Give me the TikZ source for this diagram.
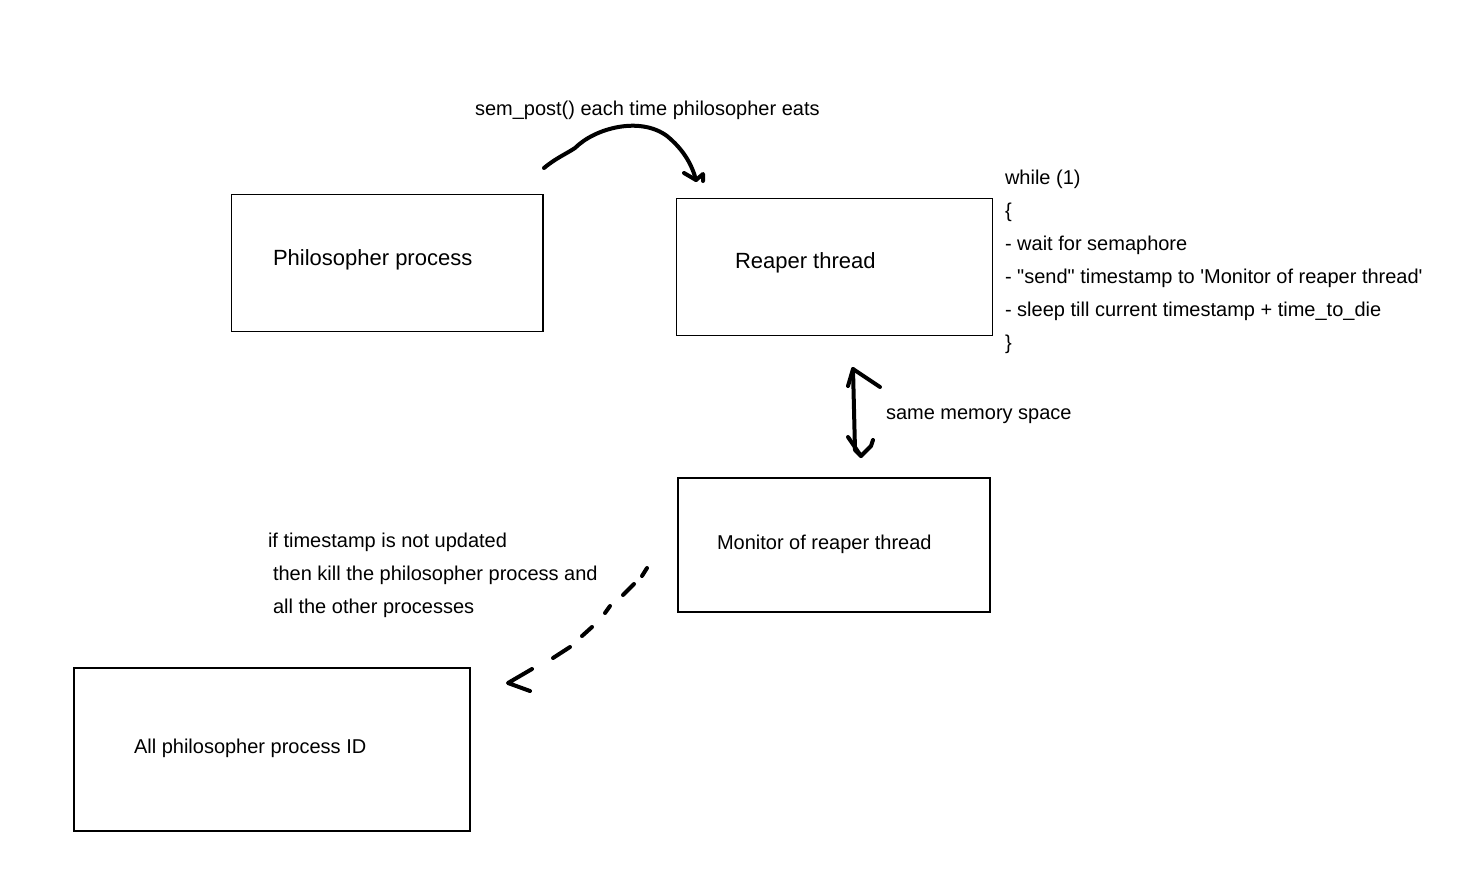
\documentclass[tikz,border=0pt]{standalone}
\usepackage{fontspec}
\newfontfamily\lib{Liberation Sans}
\begin{document}
\begin{tikzpicture}[x=1pt,y=-1pt,
  box/.style={draw=black, line width=1.1pt, inner sep=0pt, outer sep=0pt},
  lbl/.style={font=\lib\fontsize{20}{24}\selectfont, inner sep=0pt, outer sep=0pt, anchor=base west},
  biglbl/.style={font=\lib\fontsize{22}{26}\selectfont, inner sep=0pt, outer sep=0pt, anchor=base west},
  hand/.style={line width=4pt, line cap=round, line join=round, draw=black}]
\useasboundingbox (0,0) rectangle (1462,871);
\fill[white] (0,0) rectangle (1462,871);

% boxes
\node[box, minimum width=311.5pt, minimum height=137pt] (phil) at (387.25,263) {};
\node[box, minimum width=316pt, minimum height=137.5pt] (reaper) at (834.5,267) {};
\node[box, minimum width=312pt, minimum height=134pt] (monitor) at (834,545) {};
\node[box, minimum width=396pt, minimum height=163pt] (allid) at (272,749.5) {};

% box labels
\node[biglbl] (philtxt) at (273,265) {Philosopher process};
\node[biglbl] (reapertxt) at (735,268) {Reaper thread};
\node[lbl] (monitortxt) at (717,549) {Monitor of reaper thread};
\node[lbl] (alltxt) at (134,753) {All philosopher process ID};

% other texts
\node[lbl] (sem) at (475,115) {sem\_post() each time philosopher eats};
\node[lbl] (w1) at (1005,184) {while (1)};
\node[lbl] (w2) at (1005,217) {\{};
\node[lbl] (w3) at (1005,250) {- wait for semaphore};
\node[lbl] (w4) at (1005,283) {- "send" timestamp to \textquotesingle Monitor of reaper thread\textquotesingle};
\node[lbl] (w5) at (1005,316) {- sleep till current timestamp + time\_to\_die};
\node[lbl] (w6) at (1005,349) {\}};
\node[lbl] (mem) at (886,419) {same memory space};
\node[lbl] (k1) at (268,547) {if timestamp is not updated};
\node[lbl] (k2) at (273,580) {then kill the philosopher process and};
\node[lbl] (k3) at (273,613) {all the other processes};

% curved arrow: philosopher -> reaper
\coordinate (a1s) at (544,168);
\coordinate (a1e) at (696,180);
\draw[hand] (a1s) .. controls (556,158) and (566,154) .. (575,148)
  .. controls (595,128) and (640,116) .. (667,136)
  .. controls (684,150) and (692,165) .. (a1e);
\draw[hand] (684,173) -- (a1e) -- (703,174) -- (703,181);

% double arrow: reaper <-> monitor
\coordinate (a2t) at (853,369);
\coordinate (a2b) at (861,456);
\draw[hand] (a2t) -- (855,450) -- (a2b);
\draw[hand] (848,386) -- (a2t) -- (880,387);
\draw[hand] (848,437) -- (a2b) -- (871,446) -- (873,440);

% dashed arrow: monitor -> all philosopher process ID
\coordinate (a3s) at (647,568);
\coordinate (a3e) at (508,683);
\draw[hand] (a3s) -- (642,576)
  (634,584) -- (623,595)
  (610,606) -- (605,613)
  (592,627) -- (582,636)
  (570,647) -- (553,658);
\draw[hand] (532,669) -- (a3e) -- (530,691);
\end{tikzpicture}
\end{document}
